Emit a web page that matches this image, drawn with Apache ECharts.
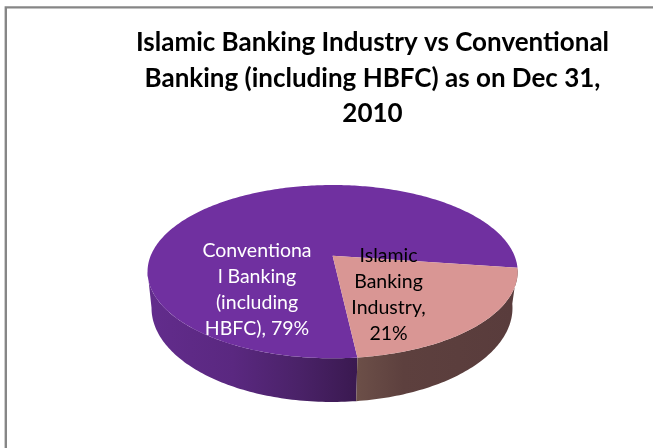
<!DOCTYPE html>
<html>
<head>
<meta charset="utf-8">
<style>
  html, body { margin: 0; padding: 0; background: #fff; }
  #chart { width: 653px; height: 448px; }
</style>
<script src="https://cdn.jsdelivr.net/npm/echarts@6/dist/echarts.min.js"></script>
</head>
<body>
<div id="chart"></div>
<script>
const chartTitle = 'Islamic Banking Industry vs Conventional\nBanking (including HBFC) as on Dec 31,\n2010';
const categories = ['Conventional Banking (including HBFC)', 'Islamic Banking Industry'];
const shares = [79, 21];
const wrappedNames = ['Conventiona\nl Banking\n(including\nHBFC), ', 'Islamic\nBanking\nIndustry,\n'];
const faceColors = ['#7030A0', '#D99694'];
const labelColors = ['#FFFFFF', '#000000'];

// Clockwise from east, in degrees, where the first slice begins.
const firstSliceAngle = 83.6;
const RAD = Math.PI / 180;

// The disc is a circle seen in perspective: rim points pass through a projective map.
const SQUASH = 0.184;
const topFace = { cx: 332.6, cy: 255.7, rx: 181.9, ry: 83.7 };
const bottomRim = { cx: 332, cy: 290.7, rx: 177.4, ry: 90.8 };
const labelSpots = [{ x: 257, y: 290 }, { x: 388.5, y: 295 }];

function project(plane, deg) {
  const u = Math.cos(deg * RAD);
  const v = Math.sin(deg * RAD);
  const w = 1 - SQUASH * v;
  return [plane.cx + plane.rx * u / w, plane.cy + plane.ry * v / w];
}

function arc(plane, from, to) {
  const steps = Math.max(2, Math.ceil(Math.abs(to - from)));
  const pts = [];
  for (let i = 0; i <= steps; i++) {
    pts.push(project(plane, from + (to - from) * i / steps));
  }
  return pts;
}

function xGradient(x1, x2, stops) {
  return new echarts.graphic.LinearGradient(x1, 0, x2, 0, stops, true);
}

const wallFills = [
  xGradient(150, 357, [
    { offset: 0, color: '#622C8C' },
    { offset: 0.4, color: '#5A2880' },
    { offset: 0.72, color: '#4A2268' },
    { offset: 1, color: '#3A1950' }
  ]),
  xGradient(357, 512, [
    { offset: 0, color: '#6C4F48' },
    { offset: 0.3, color: '#5D403E' },
    { offset: 1, color: '#593C3C' }
  ])
];

// The wall is visible from the right tangent of the rim round the front to the left one.
const frontEnd = 180 - Math.atan(SQUASH) / RAD;

function sliceRange(index) {
  const total = shares.reduce((a, b) => a + b, 0);
  let start = firstSliceAngle;
  for (let i = 0; i < index; i++) start += shares[i] / total * 360;
  start %= 360;
  return [start, start + shares[index] / total * 360];
}

function renderSlice(params, api) {
  const i = params.dataIndex;
  const [start, end] = sliceRange(i);
  const children = [];

  const wallTo = Math.min(end, frontEnd);
  if (wallTo > start) {
    const wall = arc(topFace, start, wallTo).concat(arc(bottomRim, wallTo, start));
    children.push({
      type: 'polygon',
      shape: { points: wall },
      style: { fill: wallFills[i] }
    });
  }

  const face = [[topFace.cx, topFace.cy]].concat(arc(topFace, start, end));
  children.push({
    type: 'polygon',
    shape: { points: face },
    style: { fill: faceColors[i] }
  });

  children.push({
    type: 'text',
    z2: 10,
    style: {
      text: wrappedNames[i] + api.value(0) + '%',
      x: labelSpots[i].x,
      y: labelSpots[i].y,
      fill: labelColors[i],
      fontFamily: 'Lato',
      fontSize: 19.5,
      lineHeight: 26,
      align: 'center',
      verticalAlign: 'middle'
    }
  });

  return { type: 'group', children };
}

const chart = echarts.init(document.getElementById('chart'));
chart.setOption({
  animation: false,
  backgroundColor: '#FFFFFF',
  title: {
    text: chartTitle,
    left: 367.5,
    top: 20,
    textAlign: 'center',
    textStyle: {
      fontFamily: 'Lato',
      fontWeight: 'bold',
      fontSize: 26,
      lineHeight: 35.5,
      color: '#000000'
    }
  },
  graphic: [{
    type: 'rect',
    silent: true,
    shape: { x: 5.8, y: 7.4, width: 900, height: 700 },
    style: { fill: 'none', stroke: '#868686', lineWidth: 2.4 }
  }],
  series: [{
    type: 'custom',
    coordinateSystem: 'none',
    renderItem: renderSlice,
    data: categories.map((name, i) => ({ name, value: shares[i] }))
  }]
});
</script>
</body>
</html>
